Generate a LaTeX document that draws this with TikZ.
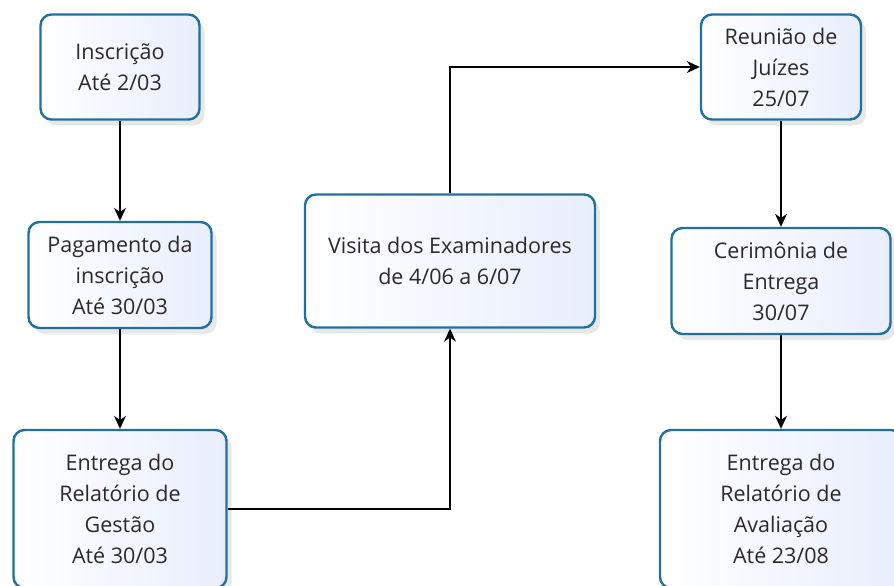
\documentclass[tikz,border=0pt]{standalone}
\usepackage{fontspec}
\setmainfont{Open Sans}
\usepackage{xcolor}
\usetikzlibrary{arrows.meta,shadows,positioning}

\definecolor{boxline}{RGB}{33,112,158}
\definecolor{boxfill}{RGB}{232,238,252}
\definecolor{textdark}{RGB}{45,40,45}

\begin{document}
\begin{tikzpicture}[x=1pt, y=-1pt,
    stage/.style={draw=boxline, line width=2.4pt, rounded corners=11pt,
        left color=white, right color=boxfill, align=center,
        text=textdark, font=\fontsize{21.5}{31}\selectfont,
        inner sep=0pt,
        drop shadow={shadow xshift=5pt, shadow yshift=-6pt, opacity=0.18}},
    flow/.style={line width=1.4pt, -{Stealth[length=13pt, width=12pt]}}]
    \useasboundingbox (0,0) rectangle (894,586);

    % Left column
    \node[stage, minimum width=159pt, minimum height=105pt] (inscr) at (120,67)
        {Inscrição\\Até 2/03};
    \node[stage, minimum width=183pt, minimum height=106pt] (pagto) at (120,275)
        {Pagamento da\\inscrição\\Até 30/03};
    \node[stage, minimum width=213pt, minimum height=158pt] (gestao) at (120,509)
        {Entrega do\\Relatório de\\Gestão\\Até 30/03};

    % Middle
    \node[stage, minimum width=290pt, minimum height=133pt] (visita) at (450,261)
        {Visita dos Examinadores\\de 4/06 a 6/07};

    % Right column
    \node[stage, minimum width=160pt, minimum height=105pt] (juizes) at (781,67)
        {Reunião de\\Juízes\\25/07};
    \node[stage, minimum width=219pt, minimum height=106pt] (cerim) at (781,281)
        {Cerimônia de\\Entrega\\30/07};
    \node[stage, minimum width=242pt, minimum height=158pt] (avalia) at (781,509)
        {Entrega do\\Relatório de\\Avaliação\\Até 23/08};

    % Connectors
    \draw[flow] (inscr) -- (pagto);
    \draw[flow] (pagto) -- (gestao);
    \draw[flow] (gestao.east) -| (visita.south);
    \draw[flow] (visita.north) |- (juizes.west);
    \draw[flow] (juizes) -- (cerim);
    \draw[flow] (cerim) -- (avalia);
\end{tikzpicture}
\end{document}
